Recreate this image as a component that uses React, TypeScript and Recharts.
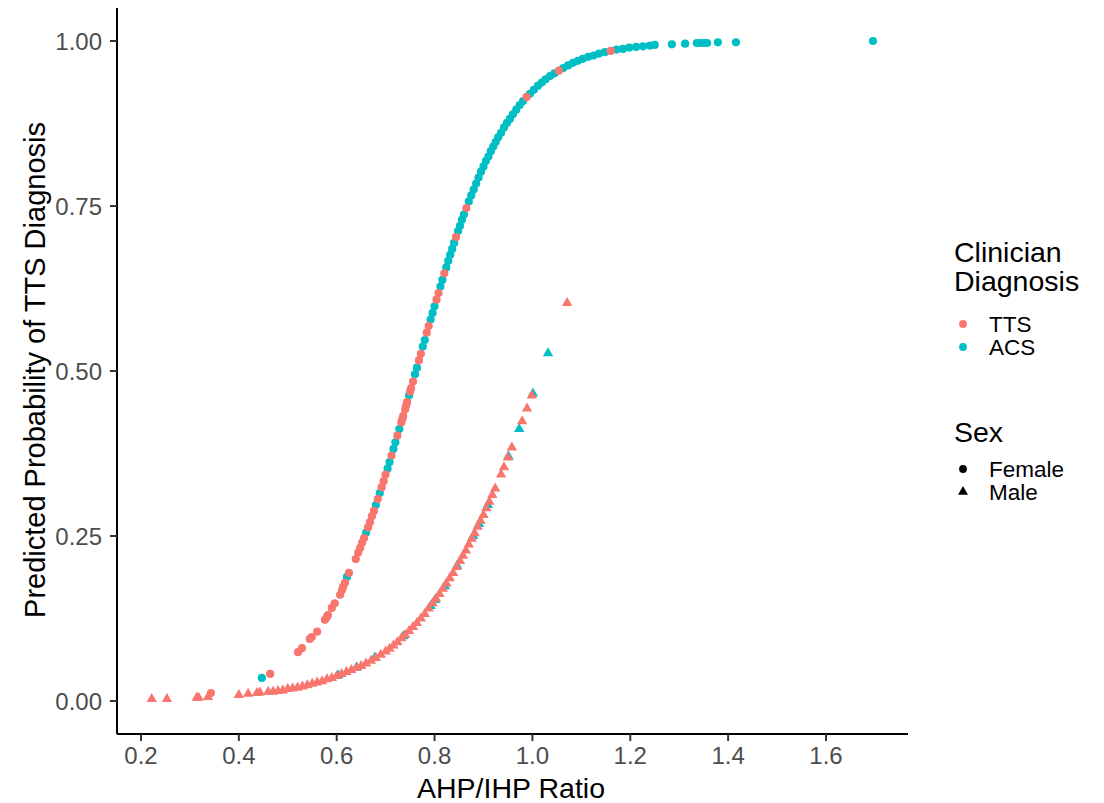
import { ScatterChart, Scatter, XAxis, YAxis, Label } from 'recharts';

const FONT = '"Liberation Sans", Arial, Helvetica, sans-serif';
const TTS_COLOR = '#F8766D';
const ACS_COLOR = '#00BFC4';

const xTicks = [0.2, 0.4, 0.6, 0.8, 1.0, 1.2, 1.4, 1.6];
const yTicks = [0, 0.25, 0.5, 0.75, 1.0];

// [AHP/IHP ratio, predicted probability]
const femaleTTS = [
  [0.343, 0.012], [0.464, 0.041], [0.521, 0.074], [0.529, 0.080], [0.545, 0.094], [0.549, 0.097],
  [0.560, 0.105], [0.576, 0.123], [0.580, 0.127], [0.582, 0.130], [0.590, 0.141], [0.596, 0.148],
  [0.607, 0.161], [0.611, 0.168], [0.613, 0.173], [0.617, 0.179], [0.625, 0.194], [0.639, 0.215],
  [0.644, 0.225], [0.648, 0.232], [0.652, 0.240], [0.656, 0.247], [0.664, 0.263], [0.668, 0.271],
  [0.672, 0.280], [0.676, 0.288], [0.684, 0.306], [0.692, 0.324], [0.696, 0.333], [0.700, 0.343],
  [0.712, 0.372], [0.724, 0.402], [0.732, 0.422], [0.734, 0.427], [0.736, 0.432], [0.740, 0.442],
  [0.742, 0.448], [0.744, 0.453], [0.750, 0.469], [0.752, 0.474], [0.756, 0.484], [0.768, 0.516],
  [0.772, 0.526], [0.784, 0.558], [0.788, 0.568], [0.804, 0.608], [0.808, 0.618], [0.820, 0.648],
  [0.844, 0.703], [0.865, 0.747], [0.988, 0.915], [1.054, 0.955], [1.160, 0.985],
];

const femaleACS = [
  [0.447, 0.035], [0.621, 0.188], [0.660, 0.255], [0.680, 0.297], [0.688, 0.315], [0.704, 0.352],
  [0.708, 0.362], [0.716, 0.382], [0.720, 0.392], [0.728, 0.412], [0.748, 0.463], [0.760, 0.495],
  [0.764, 0.505], [0.776, 0.537], [0.780, 0.547], [0.792, 0.578], [0.796, 0.588], [0.800, 0.598],
  [0.812, 0.628], [0.816, 0.638], [0.824, 0.657], [0.828, 0.667], [0.832, 0.676], [0.836, 0.685],
  [0.840, 0.694], [0.848, 0.712], [0.852, 0.720], [0.856, 0.729], [0.860, 0.737], [0.870, 0.757],
  [0.875, 0.766], [0.880, 0.775], [0.885, 0.784], [0.890, 0.793], [0.895, 0.802], [0.900, 0.810],
  [0.905, 0.818], [0.910, 0.825], [0.915, 0.833], [0.920, 0.840], [0.925, 0.847], [0.930, 0.854],
  [0.936, 0.861], [0.942, 0.869], [0.948, 0.876], [0.954, 0.882], [0.960, 0.889], [0.967, 0.896],
  [0.974, 0.903], [0.981, 0.909], [0.995, 0.920], [1.003, 0.926], [1.011, 0.932], [1.019, 0.937],
  [1.027, 0.942], [1.036, 0.947], [1.045, 0.951], [1.063, 0.959], [1.073, 0.963], [1.083, 0.967],
  [1.093, 0.970], [1.103, 0.973], [1.114, 0.976], [1.125, 0.978], [1.136, 0.981], [1.148, 0.983],
  [1.172, 0.987], [1.185, 0.988], [1.198, 0.990], [1.212, 0.991], [1.226, 0.992], [1.240, 0.993],
  [1.250, 0.994], [1.285, 0.995], [1.312, 0.996], [1.336, 0.997], [1.342, 0.997], [1.350, 0.997],
  [1.357, 0.997], [1.379, 0.998], [1.416, 0.998], [1.696, 1.000],
];

const maleTTS = [
  [0.222, 0.003], [0.253, 0.003], [0.314, 0.005], [0.318, 0.005], [0.337, 0.006], [0.400, 0.009],
  [0.419, 0.011], [0.437, 0.012], [0.443, 0.013], [0.460, 0.014], [0.470, 0.014], [0.480, 0.015],
  [0.490, 0.016], [0.500, 0.018], [0.510, 0.019], [0.520, 0.020], [0.530, 0.022], [0.540, 0.024],
  [0.550, 0.026], [0.560, 0.028], [0.570, 0.030], [0.580, 0.033], [0.590, 0.035], [0.600, 0.038],
  [0.610, 0.041], [0.620, 0.044], [0.630, 0.047], [0.640, 0.050], [0.650, 0.053], [0.660, 0.057],
  [0.670, 0.061], [0.680, 0.065], [0.690, 0.070], [0.700, 0.075], [0.708, 0.079], [0.716, 0.084],
  [0.724, 0.089], [0.732, 0.095], [0.740, 0.100], [0.748, 0.106], [0.756, 0.112], [0.764, 0.118],
  [0.772, 0.125], [0.780, 0.132], [0.788, 0.140], [0.796, 0.148], [0.803, 0.155], [0.810, 0.162],
  [0.817, 0.170], [0.824, 0.178], [0.831, 0.186], [0.838, 0.194], [0.845, 0.203], [0.852, 0.212],
  [0.858, 0.220], [0.864, 0.228], [0.870, 0.237], [0.876, 0.246], [0.882, 0.254], [0.888, 0.264],
  [0.894, 0.273], [0.900, 0.282], [0.906, 0.292], [0.912, 0.302], [0.918, 0.312], [0.924, 0.322],
  [0.936, 0.343], [0.942, 0.354], [0.950, 0.369], [0.958, 0.384], [0.979, 0.424], [0.989, 0.443],
  [0.999, 0.463], [1.071, 0.603],
];

const maleACS = [
  [0.603, 0.039], [0.641, 0.051], [0.678, 0.066], [0.736, 0.098], [0.792, 0.144], [0.801, 0.153],
  [0.821, 0.174], [0.846, 0.205], [0.879, 0.250], [0.891, 0.268], [0.909, 0.297], [0.951, 0.371],
  [0.973, 0.412], [1.001, 0.466], [1.032, 0.527],
];

const toPoints = (rows: number[][]) => rows.map(([x, y]) => ({ x, y }));

const circleShape = (color: string) => (p: any) => (
  <circle cx={p.cx} cy={p.cy} r={4.1} fill={color} />
);

const triangleShape = (color: string) => (p: any) => (
  <polygon
    points={`${p.cx},${p.cy - 6} ${p.cx + 5.2},${p.cy + 3} ${p.cx - 5.2},${p.cy + 3}`}
    fill={color}
  />
);

const tickStyle = { fill: '#4D4D4D', fontSize: 24, fontFamily: FONT };

function ChartLegend() {
  const title = { fontSize: 28.5, fontFamily: FONT, fill: '#000' };
  const item = { fontSize: 22.5, fontFamily: FONT, fill: '#000' };
  return (
    <svg width={1104} height={803} style={{ position: 'absolute', left: 0, top: 0, pointerEvents: 'none' }}>
      <text x={954} y={262} {...title}>Clinician</text>
      <text x={954} y={291} {...title}>Diagnosis</text>
      <circle cx={963} cy={324} r={3.9} fill={TTS_COLOR} />
      <text x={989} y={332} {...item}>TTS</text>
      <circle cx={963} cy={347} r={3.9} fill={ACS_COLOR} />
      <text x={989} y={355} {...item}>ACS</text>
      <text x={954} y={442} {...title}>Sex</text>
      <circle cx={963} cy={469} r={3.9} fill="#000" />
      <text x={989} y={477} {...item}>Female</text>
      <polygon points="963,486 968,494.8 958,494.8" fill="#000" />
      <text x={989} y={500} {...item}>Male</text>
    </svg>
  );
}

export default function App() {
  return (
    <div style={{ position: 'absolute', left: 0, top: 0, width: 1104, height: 803, background: '#fff' }}>
      <ScatterChart width={1104} height={803} margin={{ top: 8, right: 196, bottom: 0, left: 0 }}>
        <XAxis
          type="number"
          dataKey="x"
          domain={[0.151, 1.7676]}
          ticks={xTicks}
          interval={0}
          allowDataOverflow
          tickFormatter={(v: number) => v.toFixed(1)}
          height={69}
          tick={tickStyle}
          tickSize={7}
          tickMargin={6}
          axisLine={{ stroke: '#000', strokeWidth: 2 }}
          tickLine={{ stroke: '#333', strokeWidth: 2 }}
        >
          <Label
            content={() => (
              <text x={511} y={798} textAnchor="middle" fontSize={28.5} fontFamily={FONT} fill="#000">
                AHP/IHP Ratio
              </text>
            )}
          />
        </XAxis>
        <YAxis
          type="number"
          dataKey="y"
          domain={[-0.05, 1.05]}
          ticks={yTicks}
          interval={0}
          allowDataOverflow
          tickFormatter={(v: number) => v.toFixed(2)}
          width={117}
          tick={tickStyle}
          tickSize={7}
          tickMargin={8}
          axisLine={{ stroke: '#000', strokeWidth: 2 }}
          tickLine={{ stroke: '#333', strokeWidth: 2 }}
        >
          <Label
            content={() => (
              <text
                x={45}
                y={370}
                transform="rotate(-90 45 370)"
                textAnchor="middle"
                fontSize={29}
                fontFamily={FONT}
                fill="#000"
              >
                Predicted Probability of TTS Diagnosis
              </text>
            )}
          />
        </YAxis>
        <Scatter name="Female ACS" data={toPoints(femaleACS)} shape={circleShape(ACS_COLOR)} isAnimationActive={false} />
        <Scatter name="Female TTS" data={toPoints(femaleTTS)} shape={circleShape(TTS_COLOR)} isAnimationActive={false} />
        <Scatter name="Male ACS" data={toPoints(maleACS)} shape={triangleShape(ACS_COLOR)} isAnimationActive={false} />
        <Scatter name="Male TTS" data={toPoints(maleTTS)} shape={triangleShape(TTS_COLOR)} isAnimationActive={false} />
      </ScatterChart>
      <ChartLegend />
    </div>
  );
}
